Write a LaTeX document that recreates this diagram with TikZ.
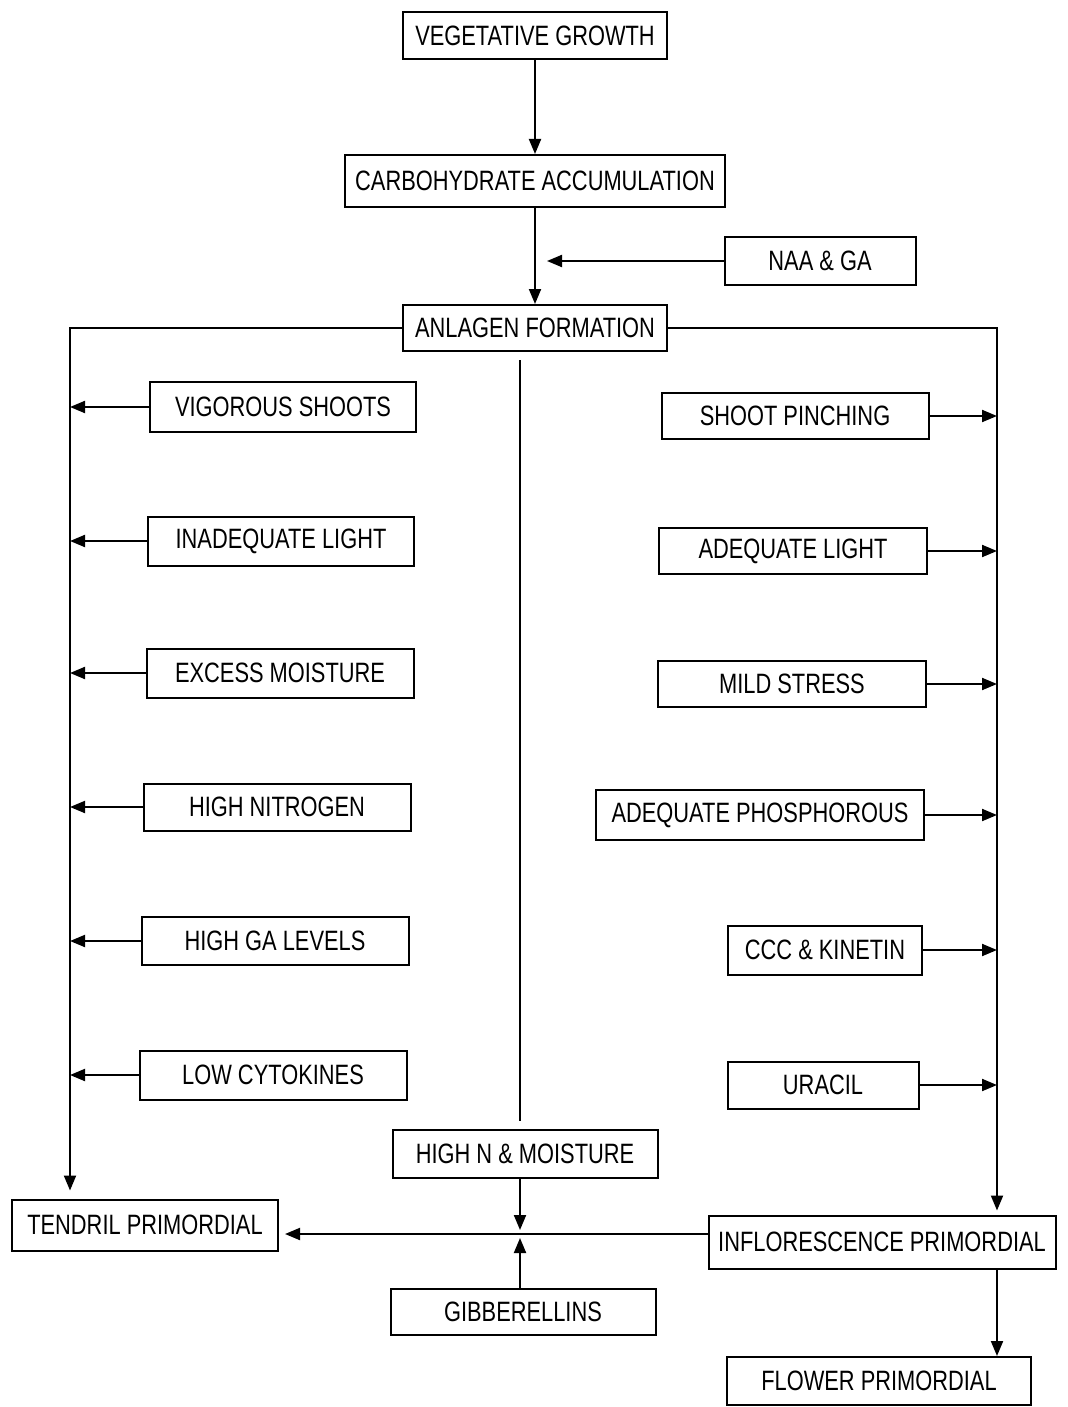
\documentclass[tikz,border=0pt]{standalone}
\usepackage{fontspec}
\setmainfont{Liberation Sans}[FakeStretch=0.78]
\usetikzlibrary{arrows.meta}

\tikzset{
  box/.style={draw, line width=1pt, inner sep=0pt, minimum height=24pt,
    font=\fontsize{14}{16}\selectfont},
  >={Triangle[length=7.5pt,width=6pt]}
}

\begin{document}
\begin{tikzpicture}[x=0.5pt,y=-0.5pt,line width=1pt]
        \useasboundingbox (0,0) rectangle (1067,1407);

        \node[box, minimum width=132pt, minimum height=23.5pt] (veg) at (535,36) {VEGETATIVE GROWTH};
        \node[box, minimum width=190pt, minimum height=26pt] (carb) at (535,181) {CARBOHYDRATE ACCUMULATION};
        \node[box, minimum width=95.5pt, minimum height=23.5pt] (naa) at (820,261) {NAA \& GA};
        \node[box, minimum width=132pt, minimum height=23pt] (anl) at (535,328) {ANLAGEN FORMATION};

        % left column
        \node[box, minimum width=133pt, minimum height=25pt] (vig) at (283,407) {VIGOROUS SHOOTS};
        \node[box, minimum width=133pt, minimum height=24.5pt] (inad) at (281,541) {INADEQUATE LIGHT};
        \node[box, minimum width=133.5pt, minimum height=24.5pt] (exc) at (280,673) {EXCESS MOISTURE};
        \node[box, minimum width=133.5pt, minimum height=23.5pt] (hn) at (277,807) {HIGH NITROGEN};
        \node[box, minimum width=133.5pt] (hga) at (275,941) {HIGH GA LEVELS};
        \node[box, minimum width=133.5pt, minimum height=24.5pt] (lowc) at (273,1075) {LOW CYTOKINES};

        % right column
        \node[box, minimum width=133.5pt, minimum height=23pt] (sp) at (795,416) {SHOOT PINCHING};
        \node[box, minimum width=134pt, minimum height=23pt] (al) at (793,551) {ADEQUATE LIGHT};
        \node[box, minimum width=134pt, minimum height=23pt] (ms) at (792,684) {MILD STRESS};
        \node[box, minimum width=164pt, minimum height=25pt] (ap) at (760,815) {ADEQUATE PHOSPHOROUS};
        \node[box, minimum width=97pt, minimum height=24.5pt] (ccc) at (825,950) {CCC \& KINETIN};
        \node[box, minimum width=95.5pt, minimum height=23.5pt] (ura) at (823,1085) {URACIL};

        % bottom
        \node[box, minimum width=132.5pt] (hin) at (525,1154) {HIGH N \& MOISTURE};
        \node[box, minimum width=132.5pt, minimum height=23pt] (gib) at (523,1312) {GIBBERELLINS};
        \node[box, minimum width=133pt, minimum height=25.5pt] (ten) at (145,1225) {TENDRIL PRIMORDIAL};
        \node[box, minimum width=173.5pt, minimum height=26.5pt] (inf) at (882,1242) {INFLORESCENCE PRIMORDIAL};
        \node[box, minimum width=152pt] (flo) at (879,1381) {FLOWER PRIMORDIAL};

        \coordinate (lt) at (70,0);
        \coordinate (rt) at (997,0);
        \coordinate (jn) at (520,1234);

        \draw[->] (veg.south) -- (veg.south |- carb.north);
        \draw[->] (carb.south) -- (carb.south |- anl.north);
        \draw[->, shorten >=6pt] (naa.west) -- (naa.west -| carb.south);

        \draw[->, shorten >=4pt] (anl.west) -| (lt |- ten.north);
        \draw[->, shorten >=2pt] (anl.east) -| (rt |- inf.north);
        \foreach \n in {vig,inad,exc,hn,hga,lowc}
            \draw[->] (\n.west) -- (\n.west -| lt);
        \foreach \n in {sp,al,ms,ap,ccc,ura}
            \draw[->] (\n.east) -- (\n.east -| rt);

        \draw[shorten <=4pt, shorten >=4pt] (anl.south -| jn) -- (hin.north -| jn);
        \draw[->, shorten >=2pt] (hin.south -| jn) -- (jn);
        \draw[->, shorten >=2pt] (gib.north -| jn) -- (jn);
        \draw[->, shorten >=3pt] (inf.west |- jn) -- (ten.east |- jn);
        \draw[->] (inf.south -| rt) -- (flo.north -| rt);

    \end{tikzpicture}
\end{document}
